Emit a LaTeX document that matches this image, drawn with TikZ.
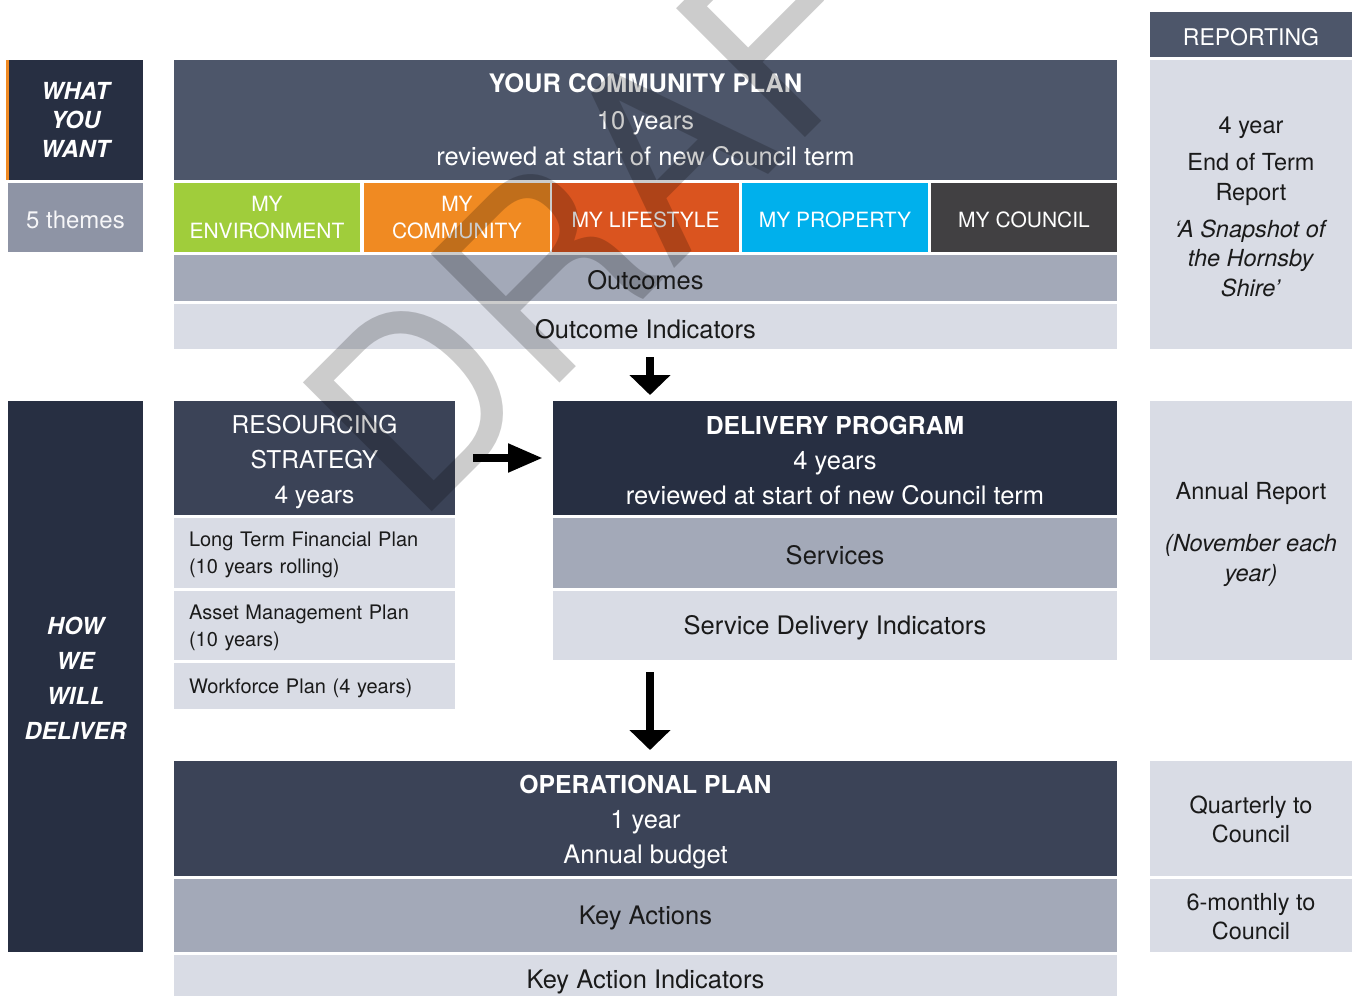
\documentclass[tikz,border=0pt]{standalone}
\usepackage{fontspec}
\setmainfont{TeX Gyre Heros}
\usetikzlibrary{arrows.meta}
\definecolor{navy}{HTML}{272F42}
\definecolor{slate}{HTML}{4D566A}
\definecolor{slatemid}{HTML}{3B4357}
\definecolor{themegray}{HTML}{8E94A5}
\definecolor{midgray}{HTML}{A3A9B8}
\definecolor{lightgray}{HTML}{D9DCE5}
\definecolor{cgreen}{HTML}{A0CD3B}
\definecolor{corange}{HTML}{F08A22}
\definecolor{cred}{HTML}{DA541F}
\definecolor{ccyan}{HTML}{00B0EC}
\definecolor{cdark}{HTML}{414042}
\definecolor{ink}{HTML}{1A1A1A}
\newcommand{\mystrut}[1]{\rule{0pt}{#1}}
\begin{document}
\begin{tikzpicture}[x=1pt,y=-1pt,
  cell/.style={anchor=north west, inner sep=0pt, outer sep=0pt, align=center, text=white, font=\fontsize{25.5}{36.5}\selectfont, execute at begin node={\rule{0pt}{0.95em}}},
  darkcell/.style={cell, text=ink},
  theme/.style={cell, font=\fontsize{21}{27}\selectfont, minimum width=186pt, minimum height=69pt, execute at begin node={}},
  rep/.style={darkcell, fill=lightgray, minimum width=202pt, font=\fontsize{23.5}{29.5}\selectfont},
  res/.style={darkcell, fill=lightgray, minimum width=281pt, text width=251pt, inner xsep=15pt, align=left, font=\fontsize{20}{27}\selectfont},
  downarrow/.style={-{Triangle[length=20pt,width=40pt]}, line width=8pt, draw=black},
  rightarrow/.style={-{Triangle[length=35pt,width=27pt]}, line width=8pt, draw=black},
]
\useasboundingbox (0,0) rectangle (1355,996);
\clip (0,0) rectangle (1355,996);

% left column
\node[cell, fill=navy, minimum width=135pt, minimum height=120pt, font=\fontsize{23.5}{29}\selectfont\bfseries\itshape, execute at begin node={}] (what) at (8,60) {WHAT\\YOU\\WANT};
\fill[corange] (6,60) rectangle (8.5,180);
\node[cell, fill=themegray, minimum width=135pt, minimum height=69pt, font=\fontsize{24}{29}\selectfont, text=white!92!themegray, execute at begin node={}] (themes) at (8,183) {5 themes};
\node[cell, fill=navy, minimum width=135pt, minimum height=551pt, font=\fontsize{23.5}{35}\selectfont\bfseries\itshape] (how) at (8,401) {\mystrut{21.5pt}HOW\\WE\\WILL\\DELIVER};

% community plan
\node[cell, fill=slate, minimum width=943pt, minimum height=120pt, execute at begin node={}] (cp) at (174,60) {{\bfseries\fontsize{25.5}{36.5}\selectfont YOUR COMMUNITY PLAN}\\10 years\\reviewed at start of new Council term};
\node[theme, fill=cgreen] (t1) at (174,183) {MY\\ENVIRONMENT};
\node[theme, fill=corange] (t2) at (364,183) {MY\\COMMUNITY};
\node[theme, fill=cred, minimum width=187pt] (t3) at (552,183) {MY LIFESTYLE};
\node[theme, fill=ccyan] (t4) at (742,183) {MY PROPERTY};
\node[theme, fill=cdark] (t5) at (931,183) {MY COUNCIL};
\node[darkcell, fill=midgray, minimum width=943pt, minimum height=46pt] (out) at (174,255) {Outcomes};
\node[darkcell, fill=lightgray, minimum width=943pt, minimum height=45pt, execute at begin node={}] (oi) at (174,304) {Outcome Indicators};

% resourcing strategy
\node[cell, fill=slatemid, minimum width=281pt, minimum height=114pt, font=\fontsize{24.5}{35}\selectfont] (rs) at (174,401) {\mystrut{26pt}RESOURCING\\STRATEGY\\4 years};
\node[res, minimum height=70pt] (ltfp) at (174,518) {Long Term Financial Plan\\(10 years rolling)};
\node[res, minimum height=69pt] (amp) at (174,591) {Asset Management Plan\\(10 years)};
\node[res, minimum height=46pt] (wfp) at (174,663) {Workforce Plan (4 years)};

% delivery program
\node[cell, fill=navy, minimum width=564pt, minimum height=114pt, font=\fontsize{25.5}{35}\selectfont] (dp) at (553,401) {{\bfseries\fontsize{24.7}{35}\selectfont\mystrut{23pt}DELIVERY PROGRAM}\\4 years\\reviewed at start of new Council term};
\node[darkcell, fill=midgray, minimum width=564pt, minimum height=70pt] (srv) at (553,518) {Services};
\node[darkcell, fill=lightgray, minimum width=564pt, minimum height=69pt] (sdi) at (553,591) {Service Delivery Indicators};

% operational plan
\node[cell, fill=slatemid, minimum width=943pt, minimum height=115pt, font=\fontsize{25.5}{35}\selectfont] (op) at (174,761) {{\bfseries\fontsize{24.7}{35}\selectfont\mystrut{26pt}OPERATIONAL PLAN}\\1 year\\Annual budget};
\node[darkcell, fill=midgray, minimum width=943pt, minimum height=73pt] (ka) at (174,879) {Key Actions};
\node[darkcell, fill=lightgray, minimum width=943pt, minimum height=48pt] (kai) at (174,955) {Key Action Indicators};

% reporting column
\node[cell, fill=slate, minimum width=202pt, minimum height=45pt, font=\fontsize{23}{29}\selectfont, execute at begin node={}] (repH) at (1150,12) {REPORTING};
\node[rep, minimum height=289pt] (rep1) at (1150,60) {\mystrut{21pt}4 year\\[7.5pt]End of Term\\Report\\[7.5pt]\textit{‘A Snapshot of}\\\textit{the Hornsby}\\\textit{Shire’}};
\node[rep, minimum height=259pt] (rep2) at (1150,401) {\mystrut{25pt}Annual Report\\[22.5pt]\textit{(November each}\\\textit{year)}};
\node[rep, minimum height=115pt] (rep3) at (1150,761) {\mystrut{19pt}Quarterly to\\Council};
\node[rep, minimum height=73pt] (rep4) at (1150,879) {\mystrut{19pt}6-monthly to\\Council};

% arrows
\coordinate (ax) at (650,0);
\draw[downarrow, shorten <=8pt, shorten >=6pt] (oi.south -| ax) -- (dp.north -| ax);
\draw[downarrow, shorten <=12pt, shorten >=11pt] (sdi.south -| ax) -- (op.north -| ax);
\draw[rightarrow, shorten <=18pt, shorten >=10pt] (rs.east) -- (dp.west);

% watermark
\begin{scope}[shift={(416,527)}, rotate=45]
\node[anchor=base west, inner sep=0pt, outer sep=0pt, transform shape, text=black, text opacity=0.2, font=\fontsize{250}{250}\selectfont] (wm) at (0,0) {DRAFT};
\end{scope}
\end{tikzpicture}
\end{document}
